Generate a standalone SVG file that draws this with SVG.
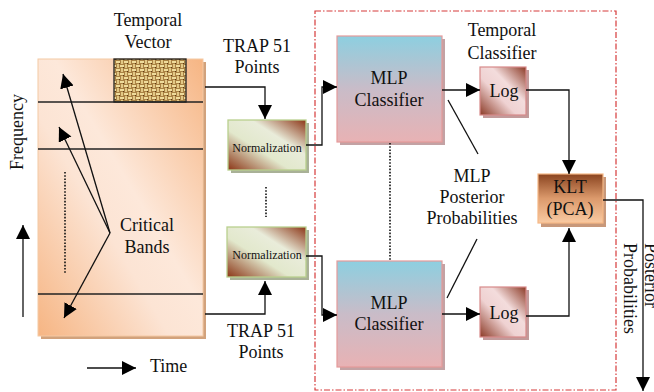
<svg xmlns="http://www.w3.org/2000/svg" width="654" height="392" viewBox="0 0 654 392" font-family="'Liberation Serif', 'Times New Roman', 'DejaVu Serif', serif" font-size="18">
<style>
text{font-family:"Liberation Serif","Times New Roman","DejaVu Serif",serif;font-size:18px;fill:#111}
.c{text-anchor:middle}
.sm{font-size:12px}
.ln{fill:none;stroke:#111;stroke-width:1.3}
.ar{marker-end:url(#ah)}
.dot{fill:none;stroke:#111;stroke-width:1.6;stroke-dasharray:1.6 1.6}
.sep{stroke:#222;stroke-width:1.3}
</style>
<defs>
<marker id="ah" markerUnits="userSpaceOnUse" markerWidth="15" markerHeight="15" refX="14" refY="7" orient="auto">
<path d="M0,0 L14,7 L0,14 Z" fill="#000"/>
</marker>
<linearGradient id="gPanel" x1="1" y1="0" x2="0" y2="1">
<stop offset="0" stop-color="#f6b583"/>
<stop offset="0.45" stop-color="#fde8da"/>
<stop offset="0.6" stop-color="#fce4d4"/>
<stop offset="1" stop-color="#f6b583"/>
</linearGradient>
<linearGradient id="gNorm" x1="1" y1="0" x2="0" y2="1">
<stop offset="0" stop-color="#8b3516"/>
<stop offset="0.35" stop-color="#e9ecda"/>
<stop offset="0.6" stop-color="#e2e8cc"/>
<stop offset="1" stop-color="#8b3516"/>
</linearGradient>
<linearGradient id="gLog" x1="1" y1="0" x2="0" y2="1">
<stop offset="0" stop-color="#8b3a26"/>
<stop offset="0.38" stop-color="#f3dcdc"/>
<stop offset="0.6" stop-color="#efd2d2"/>
<stop offset="1" stop-color="#8b3a26"/>
</linearGradient>
<linearGradient id="gMlp" x1="0" y1="0" x2="0" y2="1">
<stop offset="0" stop-color="#8dcfe0"/>
<stop offset="0.5" stop-color="#c9bcc8"/>
<stop offset="1" stop-color="#e8b2b4"/>
</linearGradient>
<linearGradient id="gKlt" x1="0" y1="0" x2="0" y2="1">
<stop offset="0" stop-color="#8a4420"/>
<stop offset="0.5" stop-color="#dc9a6c"/>
<stop offset="1" stop-color="#f9caa2"/>
</linearGradient>
<pattern id="weave" patternUnits="userSpaceOnUse" width="8" height="8">
<rect width="8" height="8" fill="#a98244"/>
<rect x="0" y="1" width="4" height="2" fill="#efdc9c"/>
<rect x="5" y="0" width="2" height="4" fill="#e2c886"/>
<rect x="4" y="5" width="4" height="2" fill="#efdc9c"/>
<rect x="1" y="4" width="2" height="4" fill="#e2c886"/>
<rect x="3" y="3" width="1" height="1" fill="#5a3a18"/>
<rect x="7" y="7" width="1" height="1" fill="#5a3a18"/>
</pattern>
</defs>

<g id="panel">
<rect x="41" y="62" width="165" height="277" fill="#d2a27c"/>
<rect x="38" y="59" width="165" height="277" fill="url(#gPanel)" stroke="#f4c9a4" stroke-width="1"/>
<rect x="114" y="59" width="72" height="43" fill="url(#weave)" stroke="#222" stroke-width="1.3"/>
<line class="sep" x1="38" y1="102" x2="203" y2="102"/>
<line class="sep" x1="38" y1="149" x2="203" y2="149" stroke="#444"/>
<line class="sep" x1="38" y1="294" x2="203" y2="294"/>
<line class="dot" x1="65" y1="172" x2="65" y2="273"/>
<text class="c" x="147" y="231">Critical</text>
<text class="c" x="147" y="253">Bands</text>
</g>

<g id="temporal-vector-label">
<text class="c" x="148" y="26">Temporal</text>
<text class="c" x="148" y="48">Vector</text>
</g>

<g id="frequency-label">
<text class="c" transform="translate(23,132) rotate(-90)">Frequency</text>
</g>

<g id="time-label">
<text x="150" y="372">Time</text>
</g>

<g id="trap-top-label">
<text class="c" x="257" y="52">TRAP 51</text>
<text class="c" x="257" y="73">Points</text>
</g>
<g id="trap-bottom-label">
<text class="c" x="261" y="337">TRAP 51</text>
<text class="c" x="261" y="358">Points</text>
</g>

<g id="norm1">
<rect x="231" y="123" width="78" height="50" fill="#a9b197"/>
<rect x="228" y="120" width="78" height="50" fill="url(#gNorm)" stroke="#b9d08e" stroke-width="1.3"/>
<text class="c sm" x="267" y="152">Normalization</text>
</g>
<g id="norm2">
<rect x="230" y="230" width="79" height="50" fill="#a9b197"/>
<rect x="227" y="227" width="79" height="50" fill="url(#gNorm)" stroke="#b9d08e" stroke-width="1.3"/>
<text class="c sm" x="267" y="259">Normalization</text>
</g>
<line class="dot" x1="266" y1="187" x2="266" y2="217"/>

<g id="region">
<rect x="315" y="11" width="301" height="379" fill="none" stroke="#d63a3a" stroke-width="1.2" stroke-dasharray="6 2 1.5 2"/>
</g>

<g id="mlp1">
<rect x="340" y="39" width="105" height="106" fill="#c3a2a4"/>
<rect x="337" y="36" width="105" height="106" fill="url(#gMlp)" stroke="#e59a9a" stroke-width="1.2"/>
<text class="c" x="389" y="84">MLP</text>
<text class="c" x="389" y="106">Classifier</text>
</g>
<g id="mlp2">
<rect x="340" y="264" width="105" height="106" fill="#c3a2a4"/>
<rect x="337" y="261" width="105" height="106" fill="url(#gMlp)" stroke="#e59a9a" stroke-width="1.2"/>
<text class="c" x="389" y="309">MLP</text>
<text class="c" x="389" y="330">Classifier</text>
</g>
<line class="dot" x1="390" y1="143" x2="390" y2="261"/>

<g id="temporal-classifier-label">
<text class="c" x="502" y="36">Temporal</text>
<text class="c" x="502" y="59">Classifier</text>
</g>

<g id="log1">
<rect x="483" y="70" width="46" height="48" fill="#c29a9a"/>
<rect x="480" y="67" width="46" height="48" fill="url(#gLog)" stroke="#d88a8a" stroke-width="1.2"/>
<text class="c" x="504" y="97">Log</text>
</g>
<g id="log2">
<rect x="483" y="290" width="46" height="50" fill="#c29a9a"/>
<rect x="480" y="287" width="46" height="50" fill="url(#gLog)" stroke="#d88a8a" stroke-width="1.2"/>
<text class="c" x="504" y="319">Log</text>
</g>

<g id="mlp-posterior-label">
<text class="c" x="472" y="182">MLP</text>
<text class="c" x="472" y="203">Posterior</text>
<text class="c" x="472" y="224">Probabilities</text>
</g>

<g id="klt">
<rect x="541" y="177" width="65" height="50" fill="#c8987a"/>
<rect x="538" y="174" width="65" height="49" fill="url(#gKlt)" stroke="#f6b886" stroke-width="1.2"/>
<text class="c" x="570" y="193">KLT</text>
<text class="c" x="570" y="215">(PCA)</text>
</g>

<g id="output-label">
<g transform="translate(624,243) rotate(90)">
<text x="0" y="-21">Posterior</text>
<text x="0" y="0">Probabilities</text>
</g>
</g>

<g id="connectors">
<path class="ln ar" d="M205,87 H265 V119"/>
<path class="ln ar" d="M205,314 H265 V281"/>
<path class="ln ar" d="M306,145 H322 V87 H337"/>
<path class="ln ar" d="M306,256 H322 V315 H337"/>
<path class="ln ar" d="M442,90 H480"/>
<path class="ln ar" d="M442,314 H480"/>
<path class="ln ar" d="M526,90 H569 V174"/>
<path class="ln ar" d="M526,316 H569 V228"/>
<path class="ln ar" d="M603,200 H643 V391"/>
<path class="ln ar" d="M87,368 H136"/>
<path class="ln ar" d="M23,317 V225"/>
<path class="ln ar" d="M110,233 L63,74"/>
<path class="ln ar" d="M110,233 L59,127"/>
<path class="ln ar" d="M110,233 L64,318"/>
<path class="ln" d="M448,100 L478,154"/>
<path class="ln" d="M477,239 L447,298"/>
</g>
</svg>
